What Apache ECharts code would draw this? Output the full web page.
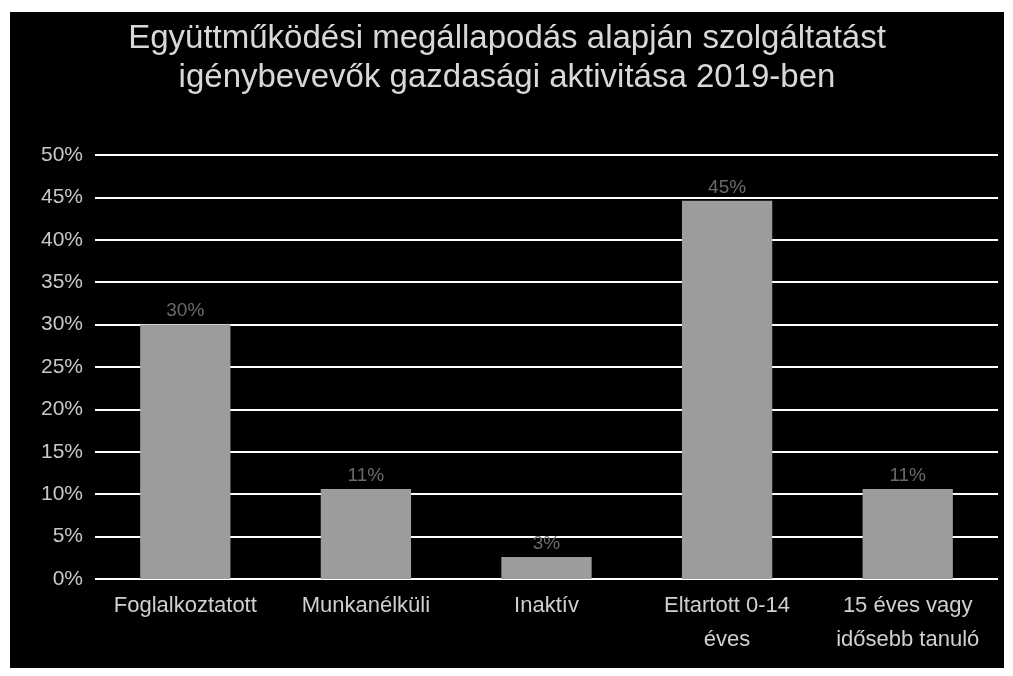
<!DOCTYPE html>
<html>
<head>
<meta charset="utf-8">
<script src="https://cdn.jsdelivr.net/npm/echarts@6/dist/echarts.min.js"></script>
<style>
  html, body { margin: 0; padding: 0; background: #fff; }
  #chart { position: absolute; left: 10px; top: 12px; width: 994px; height: 656px; }
</style>
</head>
<body>
<div id="chart"></div>
<script>
// kategóriák és értékek (%)
var categories = ['Foglalkoztatott', 'Munkanélküli', 'Inaktív', 'Eltartott 0-14\néves', '15 éves vagy\nidősebb tanuló'];
var values = [30, 10.6, 2.6, 44.6, 10.6];
var yTicks = [0, 5, 10, 15, 20, 25, 30, 35, 40, 45, 50];

var chart = echarts.init(document.getElementById('chart'));
var option = {
    backgroundColor: '#000',
    animation: false,
    title: {
        text: 'Együttműködési megállapodás alapján szolgáltatást\nigénybevevők gazdasági aktivitása 2019-ben',
        left: 'center',
        top: 2,
        textStyle: {
            color: '#d8d8d8',
            fontFamily: 'Liberation Sans',
            fontWeight: 'normal',
            fontSize: 33,
            lineHeight: 39
        }
    },
    grid: {
        left: 85,
        right: 6,
        top: 143,
        bottom: 89
    },
    xAxis: {
        type: 'category',
        data: categories,
        axisLine: { show: false },
        axisTick: { show: false },
        axisLabel: {
            color: '#d0d0d0',
            fontFamily: 'Liberation Sans',
            fontSize: 22,
            lineHeight: 34,
            margin: 10,
            interval: 0
        }
    },
    yAxis: {
        type: 'value',
        min: yTicks[0],
        max: yTicks[yTicks.length - 1],
        interval: 5,
        axisLine: { show: false },
        axisTick: { show: false },
        axisLabel: {
            color: '#c8c8c8',
            fontFamily: 'Liberation Sans',
            fontSize: 21,
            margin: 12,
            formatter: '{value}%'
        },
        splitLine: {
            lineStyle: { color: '#fff', width: 2 }
        }
    },
    series: [
        {
            type: 'bar',
            data: values,
            barWidth: '50%',
            itemStyle: { color: '#9c9c9c' },
            label: {
                show: true,
                position: 'top',
                distance: 4,
                color: '#6a6a6a',
                fontFamily: 'Liberation Sans',
                fontSize: 19,
                formatter: function (p) {
                    return Math.round(p.value) + '%';
                }
            }
        }
    ]
};
chart.setOption(option);
</script>
</body>
</html>
